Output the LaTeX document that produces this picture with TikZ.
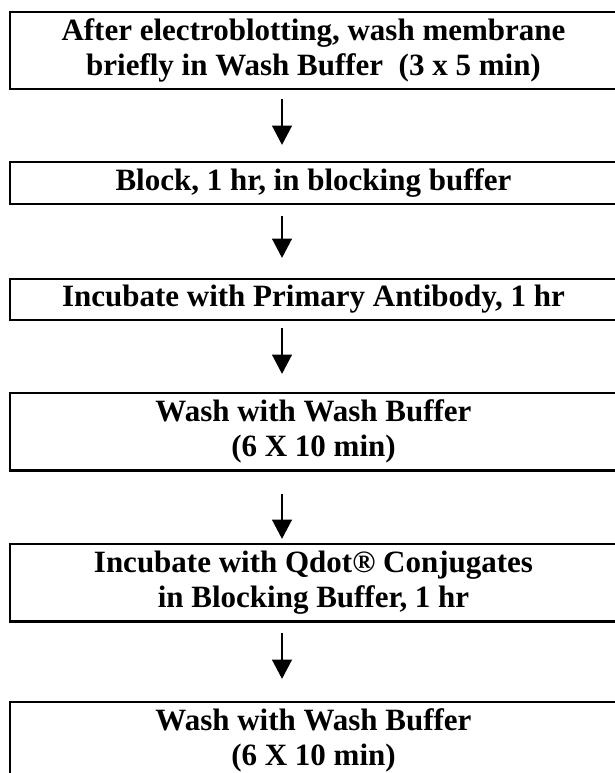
\documentclass[tikz,border=0pt]{standalone}
\usepackage{fontspec}
\setmainfont{Liberation Serif}
\usetikzlibrary{arrows.meta}
\begin{document}
\begin{tikzpicture}[x=0.75pt,y=-0.75pt,
  stepbox/.style={draw=black, line width=1.7pt, rectangle, inner sep=0pt,
    minimum width=607*0.75pt, align=center,
    font=\fontsize{23.25}{26.25}\selectfont\bfseries},
  arr/.style={draw=black, line width=1pt, -{Triangle[width=15pt,length=14.5pt]}}]
\useasboundingbox (0,0) rectangle (614,773);
\node[stepbox, minimum height=77*0.75pt] (b1) at (313.5,50.2) {After electroblotting, wash membrane\\briefly in Wash Buffer\ \ (3 x 5 min)};
\node[stepbox, minimum height=42*0.75pt] (b2) at (313.5,183) {Block, 1 hr, in blocking buffer};
\node[stepbox, minimum height=41*0.75pt] (b3) at (313.5,299.5) {Incubate with Primary Antibody, 1 hr};
\node[stepbox, minimum height=77.5*0.75pt] (b4) at (313.5,431.75) {Wash with Wash Buffer\\(6 X 10 min)};
\node[stepbox, minimum height=77.5*0.75pt] (b5) at (313.5,582.75) {Incubate with Qdot® Conjugates\\in Blocking Buffer, 1 hr};
\node[stepbox, minimum height=77.5*0.75pt] (b6) at (313.5,740.75) {Wash with Wash Buffer\\(6 X 10 min)};
\coordinate (ax) at (282,0);
\draw[arr, shorten <=7pt, shorten >=12pt] (b1.south -| ax) -- (b2.north -| ax);
\draw[arr, shorten <=8pt, shorten >=15pt] (b2.south -| ax) -- (b3.north -| ax);
\draw[arr, shorten <=5pt, shorten >=13.5pt] (b3.south -| ax) -- (b4.north -| ax);
\draw[arr, shorten <=17pt, shorten >=3pt] (b4.south -| ax) -- (b5.north -| ax);
\draw[arr, shorten <=8pt, shorten >=16.5pt] (b5.south -| ax) -- (b6.north -| ax);
\end{tikzpicture}
\end{document}
